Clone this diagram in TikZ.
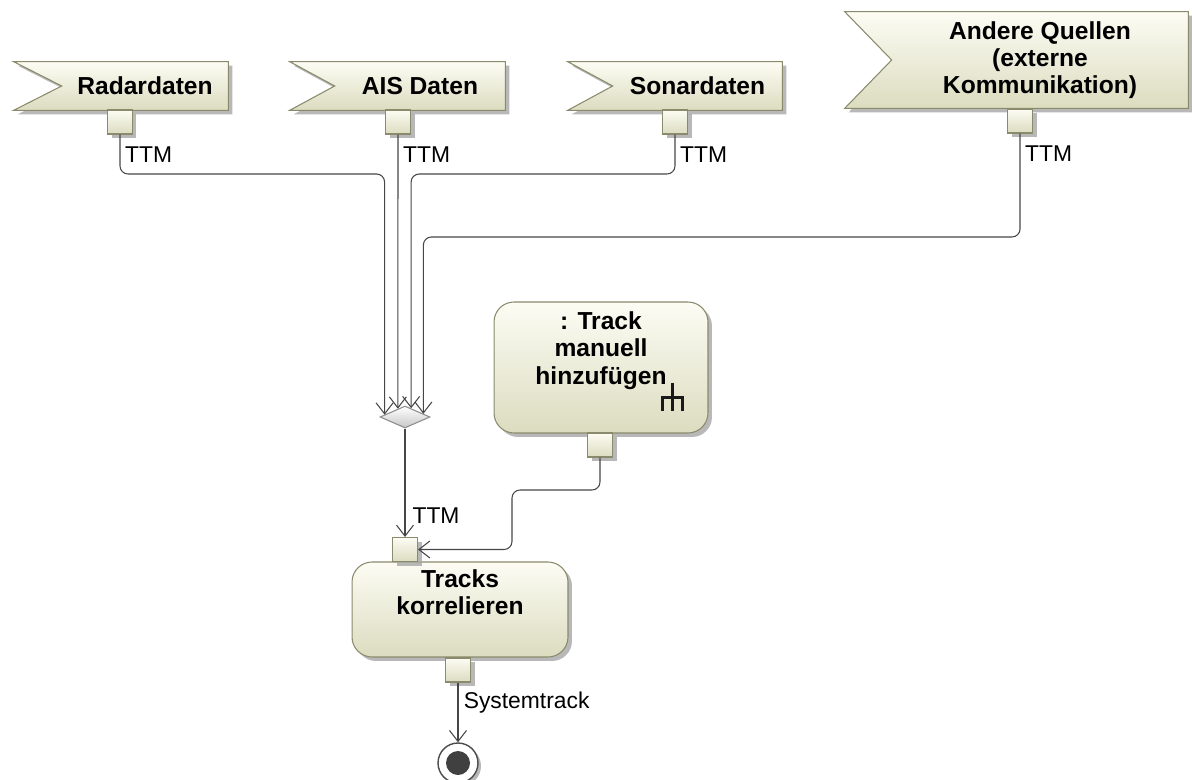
\documentclass[tikz,border=0pt]{standalone}
\usepackage{fontspec}
\setmainfont{Liberation Sans}
\usetikzlibrary{positioning, arrows.meta, shapes.geometric, shadows, backgrounds, calc}

\definecolor{umledge}{RGB}{138,138,108}
\definecolor{umllight}{RGB}{252,252,244}
\definecolor{umldark}{RGB}{220,220,192}
\definecolor{flowline}{RGB}{70,70,70}

% receive-signal flag drawn round a named node
\newcommand{\sigflag}[2]{\path[uml] (#1.north east) -- (#1.south east) -- ([xshift=-#2]#1.south west) -- (#1.west) -- ([xshift=-#2]#1.north west) -- cycle;}

\begin{document}
\begin{tikzpicture}[x=0.02cm,y=-0.02cm,>={Straight Barb[length=2.2mm,width=3.4mm]},
    uml/.style={draw=umledge,line width=0.6pt,top color=umllight,bottom color=umldark,
      drop shadow={shadow xshift=0.08cm,shadow yshift=-0.08cm,fill=black!35,opacity=0.8}},
    signame/.style={font=\fontsize{14}{15.5}\selectfont\bfseries,align=center,inner sep=0pt,minimum height=0.96cm},
    actname/.style={font=\fontsize{14}{15.5}\selectfont\bfseries,align=center,inner sep=0pt},
    action/.style={uml,rectangle,rounded corners=0.4cm},
    pin/.style={uml,rectangle,minimum width=0.5cm,minimum height=0.48cm,inner sep=0pt},
    merge/.style={diamond,draw=black!45,top color=white,bottom color=black!22,line width=0.6pt,
      minimum width=1cm,minimum height=0.44cm,inner sep=0pt},
    final/.style={circle,draw=black!70,fill=white,minimum size=0.8cm,inner sep=0pt,line width=0.8pt,
      drop shadow={shadow xshift=0.06cm,shadow yshift=-0.06cm,fill=black!35,opacity=0.8}},
    flow/.style={->,draw=flowline,line width=0.6pt,rounded corners=0.16cm},
    lbl/.style={font=\fontsize{13}{15}\selectfont,inner sep=1pt}]
  \useasboundingbox (0,0) rectangle (1192,780);

  % signals
  \node[signame,minimum width=3.32cm] (radar) at (145,86) {Radardaten};
  \node[signame,minimum width=3.4cm] (ais) at (420,86) {AIS Daten};
  \node[signame,minimum width=3.38cm] (sonar) at (697.5,86) {Sonardaten};
  \node[signame,minimum width=5.92cm,minimum height=1.92cm] (ext) at (1040,60) {Andere Quellen\\(externe\\Kommunikation)};
  \begin{pgfonlayer}{background}
    \sigflag{radar}{0.96cm}
    \sigflag{ais}{0.9cm}
    \sigflag{sonar}{0.9cm}
    \sigflag{ext}{0.94cm}
  \end{pgfonlayer}
  \node[pin] (radarpin) at (120,122) {};
  \node[pin] (aispin) at (398,122) {};
  \node[pin] (sonarpin) at (675,122) {};
  \node[pin] (extpin) at (1020,121) {};

  % merge of the four inputs
  \node[merge] (join) at (405,417) {};
  \coordinate (in1) at ($(join.north)!0.8!(join.west)$);
  \coordinate (in2) at ($(join.north)!0.28!(join.west)$);
  \coordinate (in3) at ($(join.north)!0.24!(join.east)$);
  \coordinate (in4) at ($(join.north)!0.72!(join.east)$);
  \coordinate (lane1) at (0,174);
  \coordinate (lane2) at (0,237);
  \draw[flow] (radarpin.south) |- (in1 |- lane1) -- (in1);
  \draw[flow] (aispin.south) -- (in2);
  \draw[flow] (sonarpin.south) |- (in3 |- lane1) -- (in3);
  \draw[flow] (extpin.south) |- (in4 |- lane2) -- (in4);
  \node[lbl,below right=0.2cm and 0.06cm of radarpin.south] (ttm1) {TTM};
  \node[lbl,below right=0.2cm and 0.06cm of aispin.south] (ttm2) {TTM};
  \node[lbl,below right=0.2cm and 0.06cm of sonarpin.south] (ttm3) {TTM};
  \node[lbl,below right=0.2cm and 0.06cm of extpin.south] (ttm4) {TTM};

  % actions
  \node[action,minimum width=4.28cm,minimum height=2.62cm] (manual) at (601,367.5) {};
  \node[actname] (manualtxt) at ([yshift=0.34cm]manual.center) {: Track\\manuell\\hinzufügen};
  \coordinate (rake) at ($(manual.south east)+(-36,-36)$);
  \draw[black!90,line width=1.6pt] (rake) ++(0,-15) -- ++(0,28) (rake) ++(-10,13) -- ++(0,-13) -- ++(20,0) -- ++(0,13);
  \node[pin] (manualpin) at (600,445) {};

  \node[action,minimum width=4.32cm,minimum height=1.9cm] (corr) at (460,609.5) {};
  \node[actname] (corrtxt) at ([yshift=0.34cm]corr.center) {Tracks\\korrelieren};
  \node[pin] (corrin) at (405,549.5) {};
  \node[pin] (corrout) at (458,670) {};

  \node[final] (done) at (458,763) {};
  \node[circle,fill=black!75,minimum size=0.48cm,inner sep=0pt] (doneinner) at (done) {};

  \coordinate (jog) at (512,490);
  \draw[flow] (join.south) -- node[lbl,right=3pt,pos=0.8] {TTM} (corrin.north);
  \draw[flow] (manualpin.south) |- (jog) |- (corrin.east);
  \draw[flow] (corrout.south) -- node[lbl,right=2pt,pos=0.33] {Systemtrack} (done.north);
\end{tikzpicture}
\end{document}
